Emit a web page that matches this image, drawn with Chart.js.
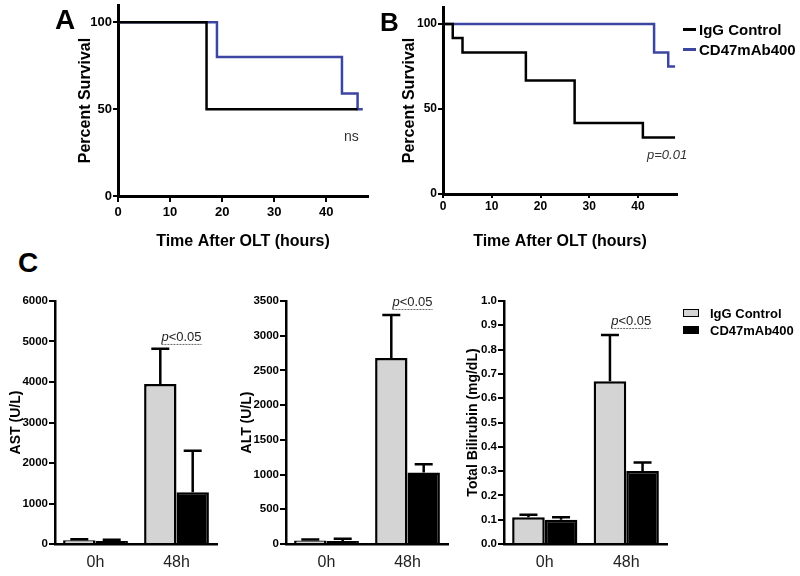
<!DOCTYPE html>
<html>
<head>
<meta charset="utf-8">
<script src="https://cdn.jsdelivr.net/npm/chart.js@4.4.1/dist/chart.umd.min.js"></script>
<style>
    body { margin: 0; width: 800px; height: 576px; position: relative; overflow: hidden; background: #fff;
           font-family: 'Liberation Sans', Arial, sans-serif; color: #000; }
    canvas { position: absolute; }
    .txt { position: absolute; white-space: nowrap; }
    .letter { font-weight: bold; font-size: 28px; line-height: 28px; }
    .leg-line { position: absolute; height: 3px; width: 13px; }
    .leg-box { position: absolute; width: 14px; height: 6px; border: 1.5px solid #000; }
</style>
</head>
<body>
<canvas id="survA" width="340" height="262" style="left:40px;top:0px"></canvas>
<canvas id="survB" width="300" height="262" style="left:390px;top:0px"></canvas>
<canvas id="astChart" width="235" height="296" style="left:0px;top:280px"></canvas>
<canvas id="altChart" width="235" height="296" style="left:230px;top:280px"></canvas>
<canvas id="biliChart" width="225" height="296" style="left:460px;top:280px"></canvas>

<div class="txt letter" style="left:55px;top:6px">A</div>
<div class="txt letter" style="left:380px;top:9px;font-size:26px;line-height:26px">B</div>
<div class="txt letter" style="left:18px;top:249px">C</div>

<div class="txt" style="left:344px;top:129px;font-size:14px;line-height:14px;color:#333">ns</div>
<div class="txt" style="left:647px;top:148px;font-size:13px;line-height:13px;font-style:italic;color:#333">p=0.01</div>

<!-- Leyenda B -->
<div class="leg-line" style="left:683px;top:27.5px;background:#000"></div>
<div class="txt" style="left:699px;top:21.5px;font-size:15px;line-height:15px;font-weight:bold">IgG Control</div>
<div class="leg-line" style="left:683px;top:47.5px;background:#3c46a0"></div>
<div class="txt" style="left:699px;top:41.5px;font-size:15px;line-height:15px;font-weight:bold">CD47mAb400</div>

<!-- Leyenda C -->
<div class="leg-box" style="left:683px;top:309px;background:#d4d4d4"></div>
<div class="txt" style="left:710px;top:307px;font-size:13px;line-height:13px;font-weight:bold">IgG Control</div>
<div class="leg-box" style="left:683px;top:326px;background:#000"></div>
<div class="txt" style="left:710px;top:324px;font-size:13px;line-height:13px;font-weight:bold">CD47mAb400</div>

<script>
// --- DATOS: SUPERVIVENCIA ---
const survTicksX = [0, 10, 20, 30, 40];
const survTicksY = [0, 50, 100];

const hoursA_igg = [0, 17, 46];
const survA_igg = [100, 50, 50];
const hoursA_cd47 = [0, 19, 43, 46, 47];
const survA_cd47 = [100, 80, 59, 50, 50];

const hoursB_igg = [0, 2, 4, 17, 27, 41, 47.6];
const survB_igg = [100, 91.7, 83.3, 66.7, 41.7, 33.3, 33.3];
const hoursB_cd47 = [0, 43.3, 46.2, 47.6];
const survB_cd47 = [100, 83.3, 75, 75];

// --- DATOS: BIOQUIMICA ---
const groups = ['0h', '48h'];
const seriesNames = ['IgG Control', 'CD47mAb400'];

const astIgG = [95, 3950];
const astIgGErr = [25, 870];
const astCD47 = [75, 1280];
const astCD47Err = [30, 1020];
const astTicks = [0, 1000, 2000, 3000, 4000, 5000, 6000];

const altIgG = [50, 2680];
const altIgGErr = [15, 620];
const altCD47 = [45, 1030];
const altCD47Err = [30, 120];
const altTicks = [0, 500, 1000, 1500, 2000, 2500, 3000, 3500];

const biliIgG = [0.11, 0.67];
const biliIgGErr = [0.01, 0.19];
const biliCD47 = [0.10, 0.30];
const biliCD47Err = [0.01, 0.035];
const biliTicks = [0, 0.1, 0.2, 0.3, 0.4, 0.5, 0.6, 0.7, 0.8, 0.9, 1.0];

const BLUE = '#3c46a0';
const GRAY = '#d4d4d4';
const SANS = "'Liberation Sans', Arial, sans-serif";

Chart.defaults.font.family = SANS;
Chart.defaults.color = '#000';

// --- PLUGINS ---
// Barras de error (solo hacia arriba, estilo GraphPad)
const errorBars = {
    id: 'errorBars',
    afterDatasetsDraw(chart) {
        const ctx = chart.ctx;
        const y = chart.scales.y;
        chart.data.datasets.forEach((ds, i) => {
            const meta = chart.getDatasetMeta(i);
            meta.data.forEach((bar, j) => {
                const top = y.getPixelForValue(ds.data[j] + ds.errors[j]);
                ctx.save();
                ctx.strokeStyle = '#000';
                ctx.lineWidth = 2.5;
                ctx.beginPath();
                ctx.moveTo(bar.x, bar.y);
                ctx.lineTo(bar.x, top);
                ctx.moveTo(bar.x - 9, top);
                ctx.lineTo(bar.x + 9, top);
                ctx.stroke();
                ctx.restore();
            });
        });
    }
};

// Etiqueta p<0.05 con linea punteada
const pMark = {
    id: 'pMark',
    afterDraw(chart, args, opts) {
        if (opts.value === undefined) return;
        const ctx = chart.ctx;
        const cx = chart.scales.x.getPixelForValue(1) + 5;
        const ly = chart.scales.y.getPixelForValue(opts.value);
        ctx.save();
        ctx.font = 'italic 13px ' + SANS;
        const wP = ctx.measureText('p').width;
        ctx.font = '13px ' + SANS;
        const wR = ctx.measureText('<0.05').width;
        const x0 = cx - (wP + wR) / 2;
        ctx.fillStyle = '#222';
        ctx.textBaseline = 'alphabetic';
        ctx.font = 'italic 13px ' + SANS;
        ctx.fillText('p', x0, ly - 3);
        ctx.font = '13px ' + SANS;
        ctx.fillText('<0.05', x0 + wP, ly - 3);
        ctx.strokeStyle = '#666';
        ctx.lineWidth = 1;
        ctx.setLineDash([2, 1]);
        ctx.beginPath();
        ctx.moveTo(x0, ly + 0.5);
        ctx.lineTo(x0 + wP + wR, ly + 0.5);
        ctx.stroke();
        ctx.restore();
    }
};

// --- GRAFICOS DE SUPERVIVENCIA ---
function toPoints(xs, ys) {
    return xs.map((x, i) => ({ x: x, y: ys[i] }));
}

function makeSurvival(id, igg, cd47, cfg) {
    const ctx = document.getElementById(id).getContext('2d');
    return new Chart(ctx, {
        type: 'line',
        data: {
            datasets: [
                { label: seriesNames[0], data: igg, borderColor: '#000', borderWidth: 2.5,
                  stepped: true, pointRadius: 0, fill: false },
                { label: seriesNames[1], data: cd47, borderColor: BLUE, borderWidth: 2.5,
                  stepped: true, pointRadius: 0, fill: false }
            ]
        },
        options: {
            responsive: false,
            animation: false,
            layout: { padding: { left: 0, top: cfg.padTop, right: cfg.padRight, bottom: 0 } },
            plugins: { legend: { display: false }, tooltip: { enabled: false } },
            scales: {
                x: {
                    type: 'linear', min: 0, max: 48,
                    afterBuildTicks: s => { s.ticks = survTicksX.map(v => ({ value: v })); },
                    afterFit: s => { s.height = cfg.xH; s.paddingLeft = 0; s.paddingRight = 0; },
                    grid: { drawOnChartArea: false, color: '#000', lineWidth: 2, tickLength: cfg.tick },
                    border: { color: '#000', width: 3 },
                    ticks: { font: { weight: 'bold', size: cfg.tickSize }, padding: cfg.tickPad, maxRotation: 0 },
                    title: { display: true, text: 'Time After OLT (hours)',
                             font: { weight: 'bold', size: 16 }, padding: { top: 0, bottom: 10.4 } }
                },
                y: {
                    min: 0, max: 110,
                    afterBuildTicks: s => { s.ticks = survTicksY.map(v => ({ value: v })); },
                    afterFit: s => { s.width = cfg.yW; s.paddingTop = 0; s.paddingBottom = 0; },
                    grid: { drawOnChartArea: false, color: '#000', lineWidth: 2, tickLength: 5 },
                    border: { color: '#000', width: 3 },
                    ticks: { font: { weight: 'bold', size: cfg.tickSize }, padding: 1 },
                    title: { display: true, text: 'Percent Survival',
                             font: { weight: 'bold', size: 16 }, padding: { top: cfg.titlePad, bottom: 0 } }
                }
            }
        }
    });
}

// --- GRAFICOS DE BARRAS ---
function makeBars(id, igg, iggErr, cd47, cd47Err, ticks, yTitle, cfg) {
    const ctx = document.getElementById(id).getContext('2d');
    return new Chart(ctx, {
        type: 'bar',
        data: {
            labels: groups,
            datasets: [
                { label: seriesNames[0], data: igg, errors: iggErr, backgroundColor: GRAY,
                  borderColor: '#000', borderWidth: 2.5 },
                { label: seriesNames[1], data: cd47, errors: cd47Err, backgroundColor: '#000',
                  borderColor: '#000', borderWidth: 2.5 }
            ]
        },
        options: {
            responsive: false,
            animation: false,
            categoryPercentage: 0.8,
            barPercentage: 1.0,
            layout: { padding: { left: 0, top: 21, right: cfg.padRight, bottom: 0 } },
            plugins: { legend: { display: false }, tooltip: { enabled: false }, pMark: { value: cfg.pValueAt } },
            scales: {
                x: {
                    afterFit: s => { s.height = 32; s.paddingLeft = 0; s.paddingRight = 0; },
                    grid: { display: false, drawTicks: false },
                    border: { color: '#000', width: 2.5 },
                    ticks: { font: { size: 16 }, color: '#222', padding: 9 }
                },
                y: {
                    min: 0, max: ticks[ticks.length - 1],
                    afterBuildTicks: s => { s.ticks = ticks.map(v => ({ value: v })); },
                    afterFit: s => { s.width = cfg.yW; s.paddingTop = 0; s.paddingBottom = 0; },
                    grid: { drawOnChartArea: false, color: '#000', lineWidth: 2, tickLength: 6 },
                    border: { color: '#000', width: 2.5 },
                    ticks: { font: { weight: 'bold', size: 11.5 }, padding: 1,
                             callback: v => cfg.decimals ? v.toFixed(cfg.decimals) : v },
                    title: { display: true, text: yTitle, font: { weight: 'bold', size: 14 },
                             padding: { top: cfg.titlePad, bottom: 0 } }
                }
            }
        },
        plugins: [errorBars, pMark]
    });
}

// Arranque
window.addEventListener('load', () => {
    makeSurvival('survA', toPoints(hoursA_igg, survA_igg), toPoints(hoursA_cd47, survA_cd47),
        { padTop: 5, padRight: 12, xH: 66, yW: 78, titlePad: 36.4, tickSize: 13, tick: 6, tickPad: 3 });
    makeSurvival('survB', toPoints(hoursB_igg, survB_igg), toPoints(hoursB_cd47, survB_cd47),
        { padTop: 7, padRight: 13, xH: 68, yW: 53, titlePad: 10.4, tickSize: 12, tick: 4, tickPad: 1 });

    makeBars('astChart', astIgG, astIgGErr, astCD47, astCD47Err, astTicks, 'AST (U/L)',
        { padRight: 18, yW: 55, titlePad: 7.6, pValueAt: 4940 });
    makeBars('altChart', altIgG, altIgGErr, altCD47, altCD47Err, altTicks, 'ALT (U/L)',
        { padRight: 17, yW: 56, titlePad: 9.1, pValueAt: 3385 });
    makeBars('biliChart', biliIgG, biliIgGErr, biliCD47, biliCD47Err, biliTicks, 'Total Bilirubin (mg/dL)',
        { padRight: 18, yW: 44, titlePad: 5.1, pValueAt: 0.889, decimals: 1 });
});
</script>
</body>
</html>
